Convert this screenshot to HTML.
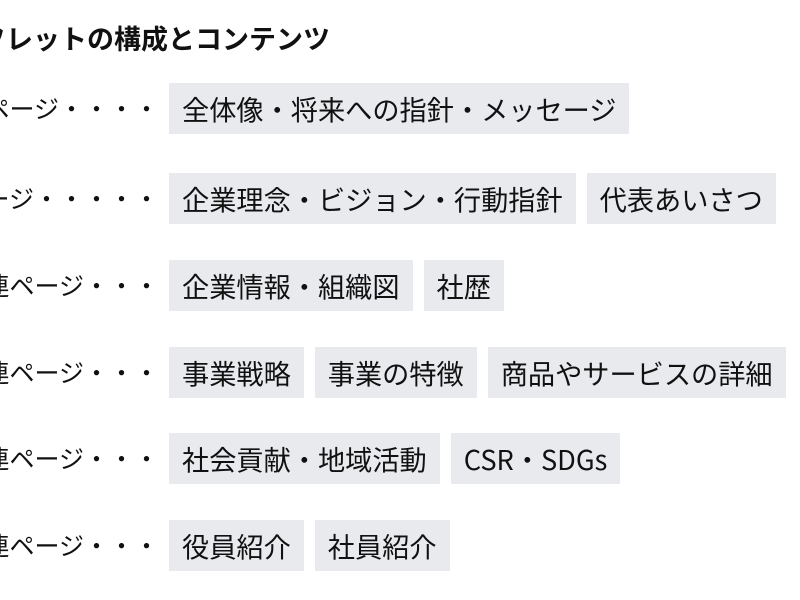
<!DOCTYPE html>
<html><head><meta charset="utf-8"><style>
html,body{margin:0;padding:0;background:#fff;width:800px;height:600px;overflow:hidden;position:relative;
font-family:"Noto Sans CJK JP","Liberation Sans",sans-serif;color:#111;}
.t{position:absolute;right:470px;top:18px;font-size:27px;font-weight:bold;white-space:nowrap;line-height:40px;}
.l{position:absolute;right:641px;font-size:25px;white-space:nowrap;line-height:51px;}
.r{position:absolute;left:169px;display:flex;gap:11px;}
.b{background:#e8eaed;height:51px;line-height:51px;font-size:27.2px;padding:0 13px;white-space:nowrap;}
</style></head><body>
<div class="t">パンフレットの構成とコンテンツ</div>

<div class="l" style="top:83px">トップページ・・・・</div>
<div class="r" style="top:83px"><div class="b">全体像・将来への指針・メッセージ</div></div>

<div class="l" style="top:173px">企業理念ページ・・・・・</div>
<div class="r" style="top:173px"><div class="b">企業理念・ビジョン・行動指針</div><div class="b">代表あいさつ</div></div>

<div class="l" style="top:260px">会社概要関連ページ・・・</div>
<div class="r" style="top:260px"><div class="b">企業情報・組織図</div><div class="b">社歴</div></div>

<div class="l" style="top:347px">事業関連ページ・・・</div>
<div class="r" style="top:347px"><div class="b">事業戦略</div><div class="b">事業の特徴</div><div class="b">商品やサービスの詳細</div></div>

<div class="l" style="top:433px">社会貢献関連ページ・・・</div>
<div class="r" style="top:433px"><div class="b">社会貢献・地域活動</div><div class="b">CSR・SDGs</div></div>

<div class="l" style="top:520px">人材関連ページ・・・</div>
<div class="r" style="top:520px"><div class="b">役員紹介</div><div class="b">社員紹介</div></div>
</body></html>
